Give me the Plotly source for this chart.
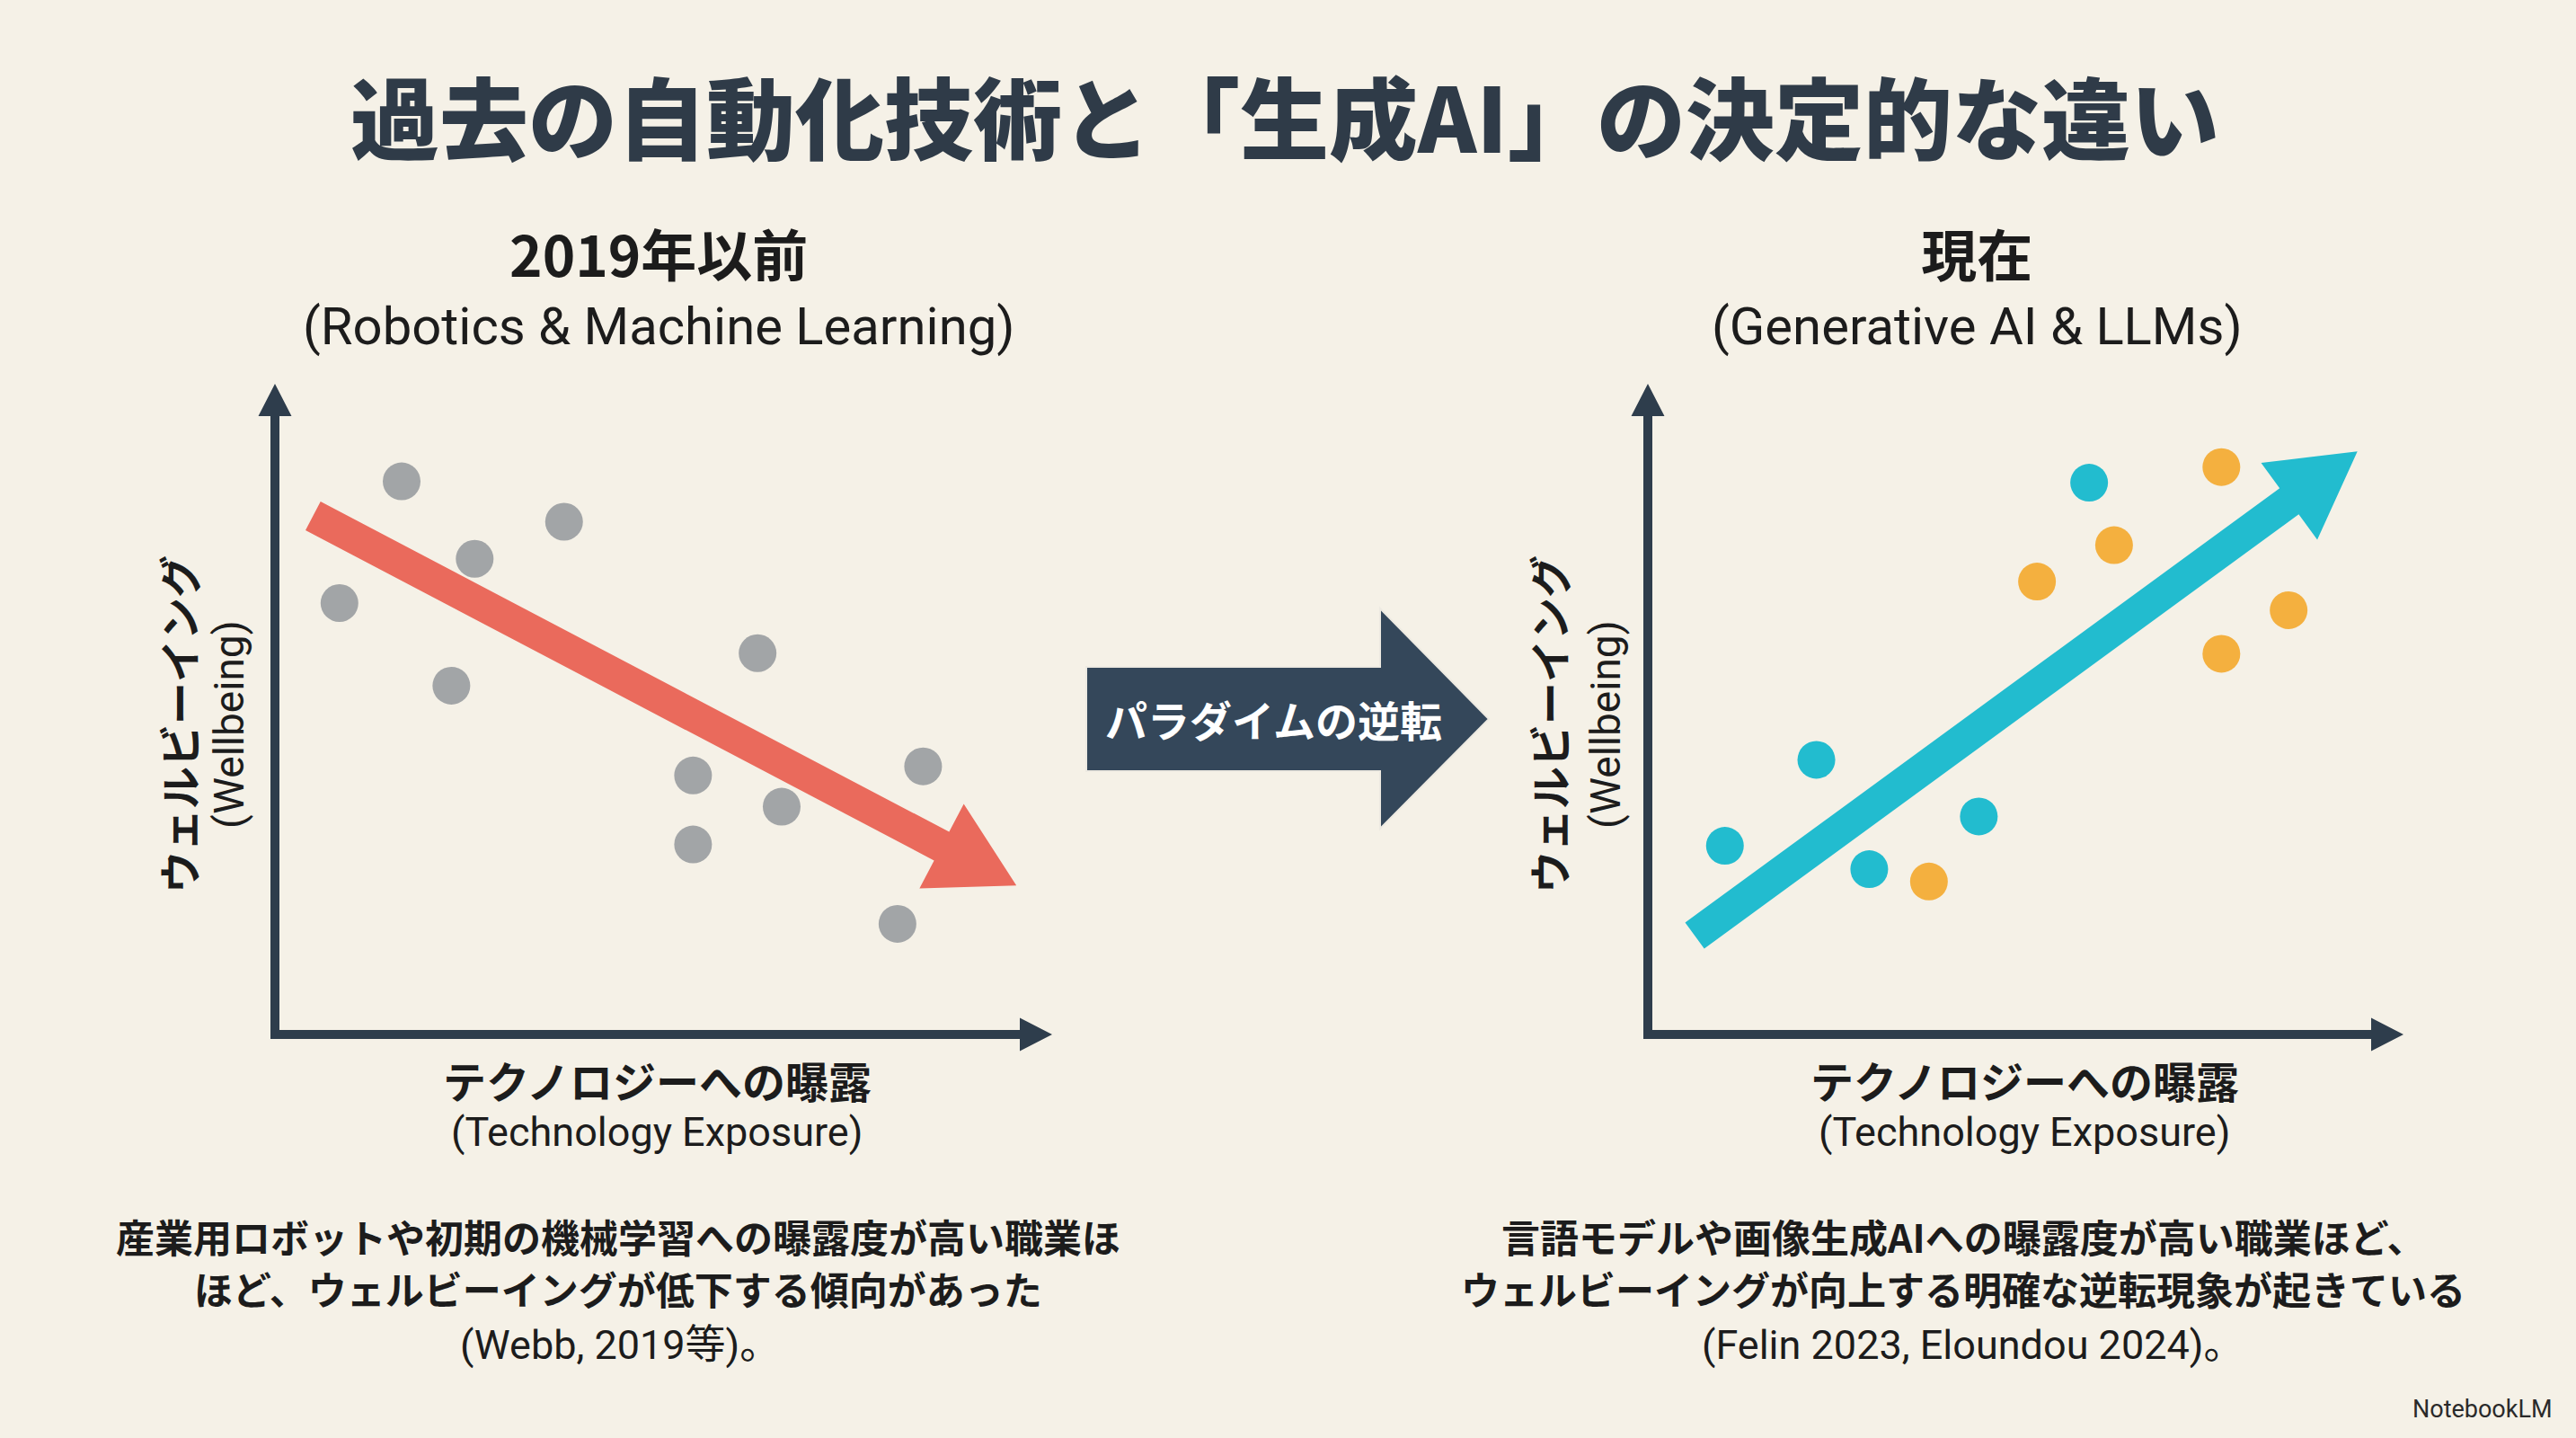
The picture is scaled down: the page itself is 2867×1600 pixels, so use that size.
import numpy as np
import plotly.graph_objects as go

W, H = 2867, 1600

# ---- data (0-10 scale on both axes) ----
old_x = [1.63, 0.83, 2.57, 3.72, 2.27, 6.21, 5.38, 6.52, 5.38, 8.34, 8.01]
old_y = [8.50, 6.63, 7.31, 7.88, 5.36, 5.86, 3.98, 3.50, 2.92, 4.12, 1.70]

teal_x = [5.84, 2.23, 1.02, 2.93, 4.38]
teal_y = [8.48, 4.22, 2.90, 2.54, 3.35]
orange_x = [7.59, 6.17, 5.15, 8.48, 7.59, 3.72]
orange_y = [8.72, 7.52, 6.96, 6.52, 5.85, 2.35]

# trend arrows: tail -> tip
old_trend_x = [0.49, 9.54]
old_trend_y = [7.97, 2.29]
new_trend_x = [0.62, 9.39]
new_trend_y = [1.52, 8.96]

# ---- colours / fonts ----
BG = "#F5F1E7"
AXIS = "#2E3D4C"
GRAY = "#A2A5A7"
RED = "#EA6A5C"
TEAL = "#22BCCF"
ORANGE = "#F4B03F"
TITLE = "#2F3B48"
INK = "#1C1C1C"
JP = "Noto Sans CJK JP"
EN = "Roboto, Noto Sans CJK JP"

# panel geometry in pixels: origin x, tip x (value 10), origin y, tip y
panels = {
    "left": dict(ox=306, tx=1171, oy=1151, ty=427),
    "right": dict(ox=1834, tx=2675, oy=1151, ty=427),
}
LO, HI = -0.6, 10.6


def domain(p0, p10):
    s = (p10 - p0) / 10
    return [p0 + LO * s, p0 + HI * s]


def arrow_poly(x0, y0, x1, y1, sx, sy, shaft, head_w, head_l):
    # build arrow outline in pixel space, return it in data units
    p0 = np.array([x0 * sx, y0 * sy])
    p1 = np.array([x1 * sx, y1 * sy])
    d = p1 - p0
    u = d / np.hypot(*d)
    n = np.array([-u[1], u[0]])
    b = p1 - u * head_l
    pts = [p0 + n * shaft / 2, b + n * shaft / 2, b + n * head_w / 2, p1,
           b - n * head_w / 2, b - n * shaft / 2, p0 - n * shaft / 2, p0 + n * shaft / 2]
    pts = np.array(pts)
    return pts[:, 0] / sx, pts[:, 1] / sy


fig = go.Figure()


def add_panel(key, xa, ya, trend_x, trend_y, trend_color):
    p = panels[key]
    sx = (p["tx"] - p["ox"]) / 10
    sy = (p["oy"] - p["ty"]) / 10
    # axes with arrow heads
    ax_x, ax_y = arrow_poly(-5 / sx, 0, 10, 0, sx, sy, 10, 37, 36)
    ay_x, ay_y = arrow_poly(0, -5 / sy, 0, 10, sx, sy, 10, 37, 36)
    for xs, ys in [(ax_x, ax_y), (ay_x, ay_y)]:
        fig.add_trace(go.Scatter(x=xs, y=ys, mode="lines", fill="toself", fillcolor=AXIS,
                                 line=dict(width=0), hoverinfo="skip", showlegend=False,
                                 xaxis=xa, yaxis=ya))
    # trend arrow
    tx, ty = arrow_poly(trend_x[0], trend_y[0], trend_x[1], trend_y[1], sx, sy, 36, 106, 94)
    fig.add_trace(go.Scatter(x=tx, y=ty, mode="lines", fill="toself", fillcolor=trend_color,
                             line=dict(width=0), hoverinfo="skip", showlegend=False,
                             xaxis=xa, yaxis=ya))


add_panel("left", "x", "y", old_trend_x, old_trend_y, RED)
add_panel("right", "x2", "y2", new_trend_x, new_trend_y, TEAL)

fig.add_trace(go.Scatter(x=old_x, y=old_y, mode="markers", marker=dict(size=42, color=GRAY),
                         showlegend=False, xaxis="x", yaxis="y"))
fig.add_trace(go.Scatter(x=teal_x, y=teal_y, mode="markers", marker=dict(size=42, color=TEAL),
                         showlegend=False, xaxis="x2", yaxis="y2"))
fig.add_trace(go.Scatter(x=orange_x, y=orange_y, mode="markers", marker=dict(size=42, color=ORANGE),
                         showlegend=False, xaxis="x2", yaxis="y2"))

hidden = dict(visible=False, range=[LO, HI], fixedrange=True)
L, R = panels["left"], panels["right"]
fig.update_layout(
    xaxis=dict(hidden, domain=domain(L["ox"] / W, L["tx"] / W)),
    yaxis=dict(hidden, domain=domain(1 - L["oy"] / H, 1 - L["ty"] / H)),
    xaxis2=dict(hidden, domain=domain(R["ox"] / W, R["tx"] / W), anchor="y2"),
    yaxis2=dict(hidden, domain=domain(1 - R["oy"] / H, 1 - R["ty"] / H), anchor="x2"),
)


def px(x):
    return x / W


def py(y):
    return 1 - y / H


# central "paradigm shift" arrow
cx = [1209, 1536, 1536, 1657, 1536, 1536, 1209]
cy = [742, 742, 677, 800, 922, 858, 858]
path = "M " + " L ".join(f"{px(a):.5f},{py(b):.5f}" for a, b in zip(cx, cy)) + " Z"
fig.add_shape(type="path", path=path, xref="paper", yref="paper",
              fillcolor="#34475A", line=dict(color="#EDEAE2", width=2), layer="below")


def label(text, x, y, size, color=INK, family=JP, weight="normal", angle=0, xanchor="center"):
    fig.add_annotation(text=text, x=px(x), y=py(y), xref="paper", yref="paper",
                       showarrow=False, xanchor=xanchor, yanchor="middle", textangle=angle,
                       font=dict(size=size, color=color, family=family, weight=weight))


def heading(jp, en, x, y):
    # bold Japanese heading over a lighter English line, one text block
    text = (f"<span style='font-family:{JP};font-size:62px'><b>{jp}</b></span>"
            f"<br>{en}")
    label(text, x, y, 58, family=EN)


label("過去の自動化技術と「生成AI」の決定的な違い", 1430, 127, 99, TITLE, weight=900)

heading("2019年以前", "(Robotics &amp; Machine Learning)", 733, 316)
heading("現在", "(Generative AI &amp; LLMs)", 2200, 316)

label("パラダイムの逆転", 1417, 799, 47, "#FFFFFF", weight="bold")

for xc in (731, 2253):
    label("テクノロジーへの曝露", xc, 1201, 48, weight="bold")
    label("(Technology Exposure)", xc, 1259, 45, family=EN)

for xj, xe in ((197, 255), (1722, 1787)):
    label("ウェルビーイング", xj, 806, 47, weight="bold", angle=-90)
    label("(Wellbeing)", xe, 806, 46, family=EN, angle=-90)

label("産業用ロボットや初期の機械学習への曝露度が高い職業ほ", 688, 1375, 43, weight="bold")
label("ほど、ウェルビーイングが低下する傾向があった", 688, 1433, 43, weight="bold")
label("(Webb, 2019等)。", 690, 1496, 45, family=EN)

label("言語モデルや画像生成AIへの曝露度が高い職業ほど、", 2185, 1375, 43, weight="bold")
label("ウェルビーイングが向上する明確な逆転現象が起きている", 2185, 1433, 43, weight="bold")
label("(Felin 2023, Eloundou 2024)。", 2195, 1496, 45, family=EN)

label("NotebookLM", 2843, 1568, 27, "#2A2A2A", family="Roboto", xanchor="right")

fig.update_layout(
    width=W, height=H,
    margin=dict(l=0, r=0, t=0, b=0),
    paper_bgcolor=BG, plot_bgcolor=BG,
    showlegend=False,
)

# page body has a default 8px margin; drop it so the figure fills the window
fig.write_html("out.html", config={"displayModeBar": False},
               post_script="document.body.style.margin='0';")
